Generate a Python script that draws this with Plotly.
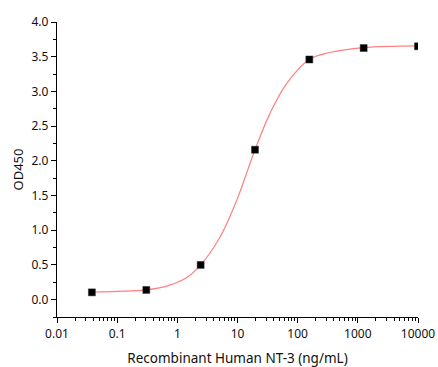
import plotly.graph_objects as go

# Concentrations (ng/mL) and measured OD450
conc = [0.038, 0.305, 2.44, 19.53, 156.25, 1250, 10000]
od450 = [0.105, 0.14, 0.50, 2.16, 3.46, 3.625, 3.65]

# Fitted curve
fit_conc = [0.038, 0.1, 0.3, 0.75, 1.5, 2.44, 5.1, 9.7, 19.53, 34.5, 65, 156.25, 343, 1250, 10000]
fit_od = [0.11, 0.12, 0.14, 0.21, 0.33, 0.50, 0.90, 1.43, 2.16, 2.68, 3.11, 3.46, 3.56, 3.63, 3.655]

x_ticks = [0.01, 0.1, 1, 10, 100, 1000, 10000]
x_labels = ["0.01", "0.1", "1", "10", "100", "1000", "10000"]
y_ticks = [0.0, 0.5, 1.0, 1.5, 2.0, 2.5, 3.0, 3.5, 4.0]

minor_x = [m * 10 ** e for e in range(-2, 4) for m in range(2, 10)]

font_name = "Noto Sans"

fig = go.Figure()

fig.add_trace(go.Scatter(
    x=fit_conc, y=fit_od,
    mode="lines",
    line=dict(color="#ff8080", width=1.2, shape="spline", smoothing=1.0),
    hoverinfo="skip",
    showlegend=False
))

fig.add_trace(go.Scatter(
    x=conc, y=od450,
    mode="markers",
    marker=dict(symbol="square", size=7, color="black", line=dict(color="#333", width=0.5)),
    showlegend=False
))

fig.update_layout(
    width=438, height=367,
    margin=dict(l=57, r=20, t=22, b=50),
    plot_bgcolor="white",
    paper_bgcolor="white",
    font=dict(family=font_name, size=12, color="#111"),
    xaxis=dict(
        type="log",
        range=[-2, 4],
        automargin=False,
        tickvals=x_ticks,
        ticktext=x_labels,
        ticks="outside", ticklen=5, tickwidth=1.2, tickcolor="black",
        minor=dict(tickvals=minor_x, ticks="outside", ticklen=2.5, tickwidth=1, tickcolor="black"),
        showline=True, linecolor="black", linewidth=1.3,
        showgrid=False, zeroline=False,
        tickfont=dict(size=12),
        title=dict(text="Recombinant Human NT-3 (ng/mL)", font=dict(size=13.5), standoff=26),
    ),
    yaxis=dict(
        range=[-0.25, 4.0],
        automargin=False,
        tickvals=y_ticks,
        tickformat=".1f",
        ticks="outside", ticklen=5, tickwidth=1.2, tickcolor="black",
        minor=dict(dtick=0.25, ticks="outside", ticklen=2.5, tickwidth=1, tickcolor="black"),
        showline=True, linecolor="black", linewidth=1.3,
        showgrid=False, zeroline=False,
        tickfont=dict(size=12),
        title=dict(text="OD450", font=dict(size=13), standoff=4),
    ),
)

# enlever la marge par défaut de la page pour que la figure remplisse la fenêtre
fig.write_html(
    "out.html",
    config={"displayModeBar": False},
    post_script="document.body.style.margin='0';document.body.style.overflow='hidden';"
)
